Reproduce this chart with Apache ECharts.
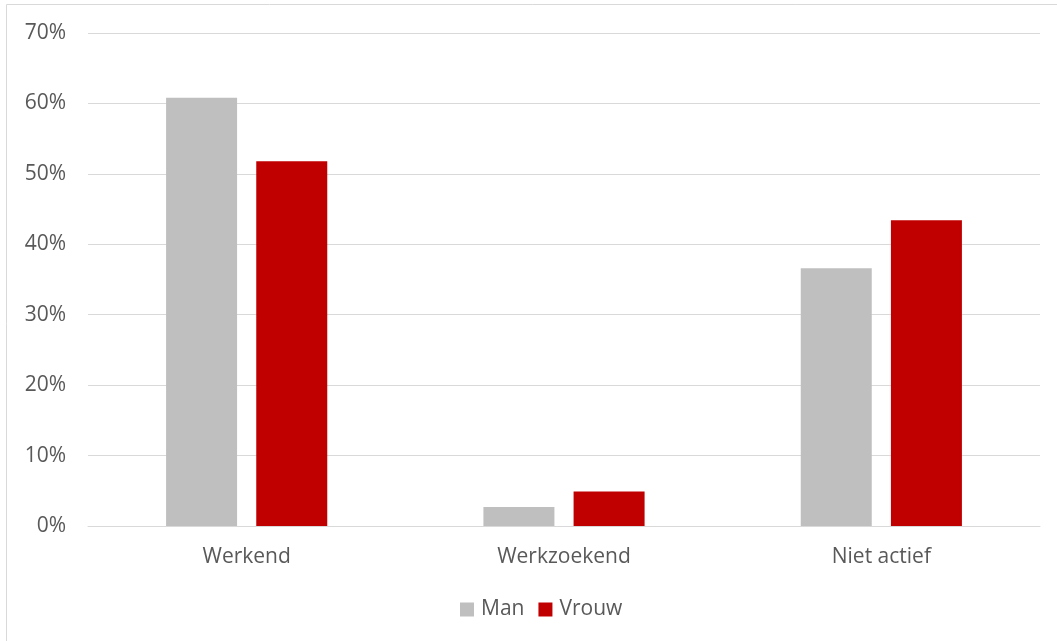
<!DOCTYPE html>
<html><head><meta charset="utf-8">
<script src="https://cdn.jsdelivr.net/npm/echarts@6/dist/echarts.min.js"></script>
<style>html,body{margin:0;padding:0;background:#fff}#c{width:1057px;height:641px}</style>
</head><body><div id="c"></div>
<script>
const categories = ['Werkend', 'Werkzoekend', 'Niet actief'];
const manValues = [0.608, 0.027, 0.366];
const vrouwValues = [0.518, 0.049, 0.434];
const yTicks = [0, 0.1, 0.2, 0.3, 0.4, 0.5, 0.6, 0.7];
const seriesNames = ['Man', 'Vrouw'];

const chart = echarts.init(document.getElementById('c'));
const font = '"Open Sans", Lato, sans-serif';
chart.setOption({
  animation: false,
  graphic: [{type: 'rect', shape: {x: 6.5, y: 4.5, width: 1200, height: 800}, style: {fill: 'none', stroke: '#d9d9d9', lineWidth: 1}}],
  grid: {left: 88, right: 17, top: 33, bottom: 115},
  legend: {
    data: seriesNames, bottom: 16, left: 455, itemWidth: 14, itemHeight: 14, itemGap: 14,
    icon: 'rect',
    textStyle: {color: '#595959', fontSize: 21, fontFamily: font, padding: [0, 0, 0, 2]}
  },
  xAxis: {
    type: 'category', data: categories,
    axisLine: {lineStyle: {color: '#d9d9d9', width: 1}},
    axisTick: {show: false},
    axisLabel: {color: '#595959', fontSize: 21, fontFamily: font, margin: 21}
  },
  yAxis: {
    type: 'value', min: 0, max: 0.7, interval: 0.1,
    axisLine: {show: false}, axisTick: {show: false},
    splitLine: {lineStyle: {color: '#d9d9d9', width: 1}},
    axisLabel: {color: '#595959', fontSize: 21, fontFamily: font, margin: 22,
      formatter: v => Math.round(v * 100) + '%'}
  },
  series: [
    {name: seriesNames[0], type: 'bar', data: manValues, barWidth: 71, barGap: '27%', itemStyle: {color: '#bfbfbf'}},
    {name: seriesNames[1], type: 'bar', data: vrouwValues, barWidth: 71, itemStyle: {color: '#c00000'}}
  ]
});
</script></body></html>
